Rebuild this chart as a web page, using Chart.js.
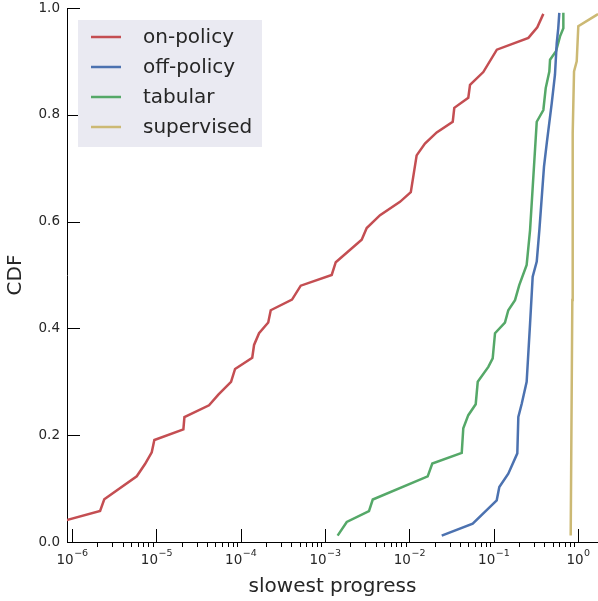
<!DOCTYPE html>
<html>
<head>
<meta charset="utf-8">
<script src="https://cdn.jsdelivr.net/npm/chart.js@4.4.1/dist/chart.umd.min.js"></script>
<style>
  html, body { margin: 0; padding: 0; background: #fff; }
  #wrap { width: 598px; height: 601px; position: relative; }
</style>
</head>
<body>
<div id="wrap"><canvas id="chartCdf"></canvas></div>
<script>
// values (x = slowest progress, y = CDF)
const onPolicyX = [7.2e-7, 2.15e-6, 2.41e-6, 5.85e-6, 7.33e-6, 8.81e-6, 9.46e-6, 2.09e-5, 2.15e-5, 4.21e-5,
  5.43e-5, 7.68e-5, 8.57e-5, 1.37e-4, 1.44e-4, 1.65e-4, 2.12e-4, 2.27e-4, 4.06e-4, 5.15e-4,
  1.2e-3, 1.34e-3, 2.72e-3, 3.12e-3, 4.49e-3, 7.74e-3, 1.04e-2, 1.22e-2, 1.53e-2, 2.11e-2,
  3.27e-2, 3.41e-2, 5.0e-2, 5.24e-2, 7.53e-2, 0.109, 0.258, 0.329, 0.388];
const onPolicyY = [0.0375, 0.058, 0.080, 0.123, 0.146, 0.168, 0.191, 0.211, 0.234, 0.256,
  0.276, 0.300, 0.324, 0.345, 0.369, 0.391, 0.411, 0.434, 0.454, 0.480,
  0.500, 0.524, 0.566, 0.588, 0.612, 0.637, 0.655, 0.724, 0.746, 0.767,
  0.787, 0.813, 0.832, 0.856, 0.880, 0.922, 0.944, 0.964, 0.989];

const offPolicyX = [0.0242, 0.0564, 0.1086, 0.1166, 0.149, 0.1906, 0.196, 0.215, 0.246, 0.270,
  0.290, 0.324, 0.348, 0.395, 0.426, 0.488, 0.533, 0.559, 0.583, 0.600];
const offPolicyY = [0.012, 0.0345, 0.078, 0.103, 0.128, 0.166, 0.234, 0.259, 0.300, 0.409,
  0.497, 0.525, 0.584, 0.703, 0.747, 0.822, 0.875, 0.934, 0.962, 0.991];

const tabularX = [1.41e-3, 1.81e-3, 3.32e-3, 3.68e-3, 1.65e-2, 1.87e-2, 4.18e-2, 4.36e-2, 5.0e-2, 6.12e-2,
  6.47e-2, 8.64e-2, 9.73e-2, 0.1037, 0.136, 0.149, 0.179, 0.201, 0.246, 0.270,
  0.324, 0.388, 0.414, 0.457, 0.466, 0.548, 0.612, 0.670, 0.670];
const tabularY = [0.012, 0.0375, 0.058, 0.0795, 0.123, 0.147, 0.167, 0.213, 0.2375, 0.258,
  0.300, 0.328, 0.344, 0.391, 0.411, 0.434, 0.453, 0.481, 0.519, 0.584,
  0.787, 0.809, 0.850, 0.881, 0.903, 0.919, 0.947, 0.962, 0.991];

const supervisedX = [0.819, 0.856, 0.865, 0.897, 0.965, 1.008, 1.666, 1.726];
const supervisedY = [0.012, 0.453, 0.766, 0.881, 0.900, 0.966, 0.987, 0.989];

const seriesNames = ["on-policy", "off-policy", "tabular", "supervised"];
const decadeTicks = [1e-6, 1e-5, 1e-4, 1e-3, 1e-2, 1e-1, 1];
const decadeExponents = ["−6", "−5", "−4", "−3", "−2", "−1", "0"];
const cdfTicks = [0, 0.2, 0.4, 0.6, 0.8, 1.0];

const colors = ["#c44e52", "#4c72b0", "#55a868", "#ccb974"];
const textColor = "#262626";

function pairs(xs, ys) {
  return xs.map((x, i) => ({ x: x, y: ys[i] }));
}

const series = [
  pairs(onPolicyX, onPolicyY),
  pairs(offPolicyX, offPolicyY),
  pairs(tabularX, tabularY),
  pairs(supervisedX, supervisedY),
];

// inward major ticks, small outward minor ticks, 10^n labels and the boxed legend
const axisDecor = {
  id: "axisDecor",
  afterDraw(chart) {
    const { ctx, chartArea, scales } = chart;
    const x = scales.x;
    const y = scales.y;
    ctx.save();
    ctx.strokeStyle = "#000";
    ctx.lineWidth = 1;
    ctx.beginPath();
    decadeTicks.forEach((v) => {
      const px = Math.round(x.getPixelForValue(v)) + 0.5;
      ctx.moveTo(px, chartArea.bottom);
      ctx.lineTo(px, chartArea.bottom - 13);
    });
    for (let d = 0; d < decadeTicks.length - 1; d++) {
      for (let m = 2; m <= 9; m++) {
        const px = Math.round(x.getPixelForValue(decadeTicks[d] * m)) + 0.5;
        ctx.moveTo(px, chartArea.bottom);
        ctx.lineTo(px, chartArea.bottom + 5);
      }
    }
    cdfTicks.forEach((v) => {
      const py = Math.round(y.getPixelForValue(v)) + 0.5;
      ctx.moveTo(chartArea.left, py);
      ctx.lineTo(chartArea.left + 13, py);
    });
    ctx.stroke();

    // x tick labels: base 10 with a raised exponent
    ctx.fillStyle = textColor;
    ctx.textBaseline = "alphabetic";
    ctx.textAlign = "left";
    decadeTicks.forEach((v, i) => {
      const px = x.getPixelForValue(v);
      ctx.font = "13.5px 'DejaVu Sans'";
      const wBase = ctx.measureText("10").width;
      ctx.font = "9.5px 'DejaVu Sans'";
      const wExp = ctx.measureText(decadeExponents[i]).width;
      const start = px - (wBase + wExp) / 2;
      ctx.font = "13.5px 'DejaVu Sans'";
      ctx.fillText("10", start, chartArea.bottom + 22);
      ctx.font = "9.5px 'DejaVu Sans'";
      ctx.fillText(decadeExponents[i], start + wBase + 0.5, chartArea.bottom + 14);
    });

    // legend
    ctx.fillStyle = "#eaeaf2";
    ctx.fillRect(78, 20, 184, 127);
    ctx.font = "20px 'DejaVu Sans'";
    ctx.textBaseline = "middle";
    chart.data.datasets.forEach((ds, i) => {
      const rowY = 37 + i * 30;
      ctx.strokeStyle = ds.borderColor;
      ctx.lineWidth = 2.5;
      ctx.beginPath();
      ctx.moveTo(91, rowY);
      ctx.lineTo(121, rowY);
      ctx.stroke();
      ctx.fillStyle = textColor;
      ctx.fillText(ds.label, 143, rowY + 1);
    });
    ctx.restore();
  },
};

const chartCdf = document.getElementById("chartCdf").getContext("2d");
new Chart(chartCdf, {
  type: "line",
  data: {
    datasets: series.map((pts, i) => ({
      label: seriesNames[i],
      data: pts,
      borderColor: colors[i],
      borderWidth: 2.5,
      pointRadius: 0,
      tension: 0,
      fill: false,
    })),
  },
  options: {
    responsive: true,
    maintainAspectRatio: false,
    animation: false,
    layout: { padding: { top: 8, right: 0, left: 0, bottom: 0 } },
    scales: {
      x: {
        type: "logarithmic",
        min: Math.pow(10, -6.06),
        max: Math.pow(10, 0.237),
        afterBuildTicks: (s) => {
          s.ticks = decadeTicks.map((v) => ({ value: v }));
        },
        afterFit: (s) => {
          s.height = 59;
          s.paddingLeft = 0;
          s.paddingRight = 0;
        },
        grid: { display: false, drawTicks: false },
        border: { display: true, color: "#000", width: 1 },
        ticks: { display: false },
        title: {
          display: true,
          text: "slowest progress",
          color: textColor,
          font: { family: "DejaVu Sans", size: 20 },
          padding: { top: 0, bottom: 2 },
        },
      },
      y: {
        type: "linear",
        min: 0,
        max: 1,
        afterBuildTicks: (s) => {
          s.ticks = cdfTicks.map((v) => ({ value: v }));
        },
        afterFit: (s) => {
          s.width = 67;
          s.paddingTop = 0;
          s.paddingBottom = 0;
        },
        grid: { display: false, drawTicks: false },
        border: { display: true, color: "#000", width: 1 },
        ticks: {
          padding: 7,
          color: textColor,
          font: { family: "DejaVu Sans", size: 13.5 },
          callback: (v) => v.toFixed(1),
        },
        title: {
          display: true,
          text: "CDF",
          color: textColor,
          font: { family: "DejaVu Sans", size: 20 },
          padding: { top: 4, bottom: 0 },
        },
      },
    },
    plugins: {
      legend: { display: false },
      tooltip: { enabled: false },
    },
  },
  plugins: [axisDecor],
});
</script>
</body>
</html>
